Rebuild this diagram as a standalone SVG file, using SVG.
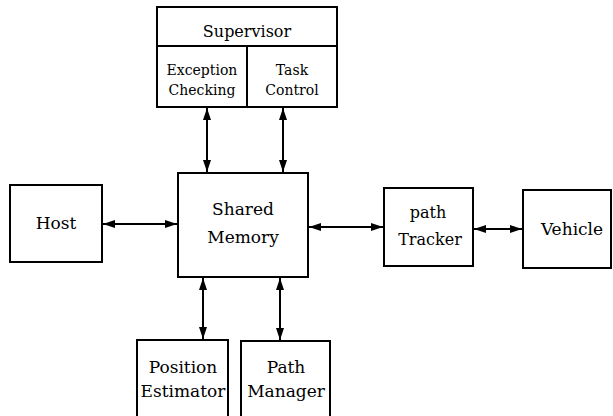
<svg xmlns="http://www.w3.org/2000/svg" width="613" height="416" viewBox="0 0 613 416">
<defs>
<marker id="ah" viewBox="0 0 12 8" refX="12" refY="4" markerWidth="12" markerHeight="8" markerUnits="userSpaceOnUse" orient="auto-start-reverse">
<path d="M0,0 L12,4 L0,8 Z" fill="#000"/>
</marker>
<style>
.box{fill:#fff;stroke:#000;stroke-width:2}
.t{font-family:"DejaVu Serif","Liberation Serif",serif;fill:#000;text-anchor:middle}
.l{font-size:17px}
.s{font-size:14px}
.c{stroke:#000;stroke-width:2;fill:none;marker-start:url(#ah);marker-end:url(#ah)}
</style>
</defs>
<rect width="613" height="416" fill="#fff"/>
<g id="supervisor">
<rect class="box" x="157" y="7" width="180" height="100"/>
<line x1="157" y1="46" x2="337" y2="46" stroke="#000" stroke-width="2"/>
<line x1="247" y1="46" x2="247" y2="107" stroke="#000" stroke-width="2"/>
<text class="t" x="247" y="37" font-size="16">Supervisor</text>
</g>
<g id="exception-checking">
<text class="t s" x="202" y="75">Exception</text>
<text class="t s" x="202" y="95">Checking</text>
</g>
<g id="task-control">
<text class="t s" x="292" y="75">Task</text>
<text class="t s" x="292" y="95">Control</text>
</g>
<g id="host">
<rect class="box" x="10" y="185" width="92" height="77"/>
<text class="t l" x="56" y="229">Host</text>
</g>
<g id="shared-memory">
<rect class="box" x="178" y="173" width="130" height="104"/>
<text class="t l" x="243" y="215">Shared</text>
<text class="t l" x="243" y="243">Memory</text>
</g>
<g id="path-tracker">
<rect class="box" x="384" y="188" width="89" height="78"/>
<text class="t" x="428" y="218" font-size="16">path</text>
<text class="t" x="430" y="245" font-size="16">Tracker</text>
</g>
<g id="vehicle">
<rect class="box" x="523" y="190" width="88" height="78"/>
<text class="t l" x="572" y="235">Vehicle</text>
</g>
<g id="position-estimator">
<path d="M137,420 V340 H228 V420" class="box"/>
<text class="t l" x="183" y="373">Position</text>
<text class="t l" x="183" y="397">Estimator</text>
</g>
<g id="path-manager">
<path d="M241,420 V341 H330 V420" class="box"/>
<text class="t l" x="286" y="373">Path</text>
<text class="t l" x="286" y="397">Manager</text>
</g>
<g id="connectors">
<line class="c" x1="103" y1="224" x2="177" y2="224"/>
<line class="c" x1="309" y1="227" x2="383" y2="227"/>
<line class="c" x1="474" y1="229" x2="522" y2="229"/>
<line class="c" x1="207" y1="108" x2="207" y2="172"/>
<line class="c" x1="283" y1="108" x2="283" y2="172"/>
<line class="c" x1="203" y1="278" x2="203" y2="339"/>
<line class="c" x1="280" y1="278" x2="280" y2="340"/>
</g>
</svg>
